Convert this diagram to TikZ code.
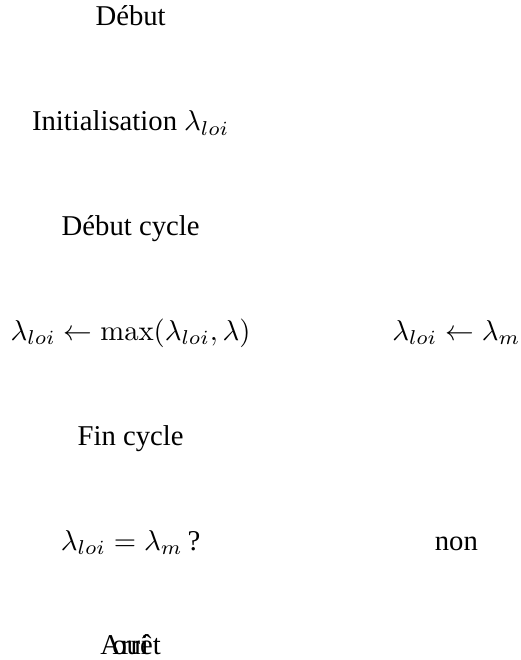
\documentclass[tikz,border=0pt]{standalone}
\usepackage[no-math]{fontspec}
\setmainfont{Liberation Serif}
\begin{document}
\begin{tikzpicture}[x=1cm,y=1cm]
  \def\colg{1.60}\def\cold{5.59}\def\pas{1.284}\def\haut{0.318}
  \tikzset{etape/.style={anchor=base,inner sep=0pt}}
  \useasboundingbox (0,0) rectangle (6.381,-8.084);
  \foreach \i/\nom/\txt in {0/debut/D\'ebut,1/init/{Initialisation $\lambda_{loi}$},2/cycle/{D\'ebut cycle},3/maj/{$\lambda_{loi}\leftarrow\max(\lambda_{loi},\lambda)$},4/fin/{Fin cycle},5/test/{$\lambda_{loi}=\lambda_m\,$?},6/arret/{Arr\^et}}{
    \node[etape] (\nom) at (\colg,{-\haut-\i*\pas}) {\txt};
  }
  \node[etape] (reinit) at (\cold,{-\haut-3*\pas}) {$\lambda_{loi}\leftarrow\lambda_m$};
  \node[etape] (non) at (\cold,{-\haut-5*\pas}) {non};
  \node[etape] (oui) at (arret.base) {oui};
\end{tikzpicture}
\end{document}
